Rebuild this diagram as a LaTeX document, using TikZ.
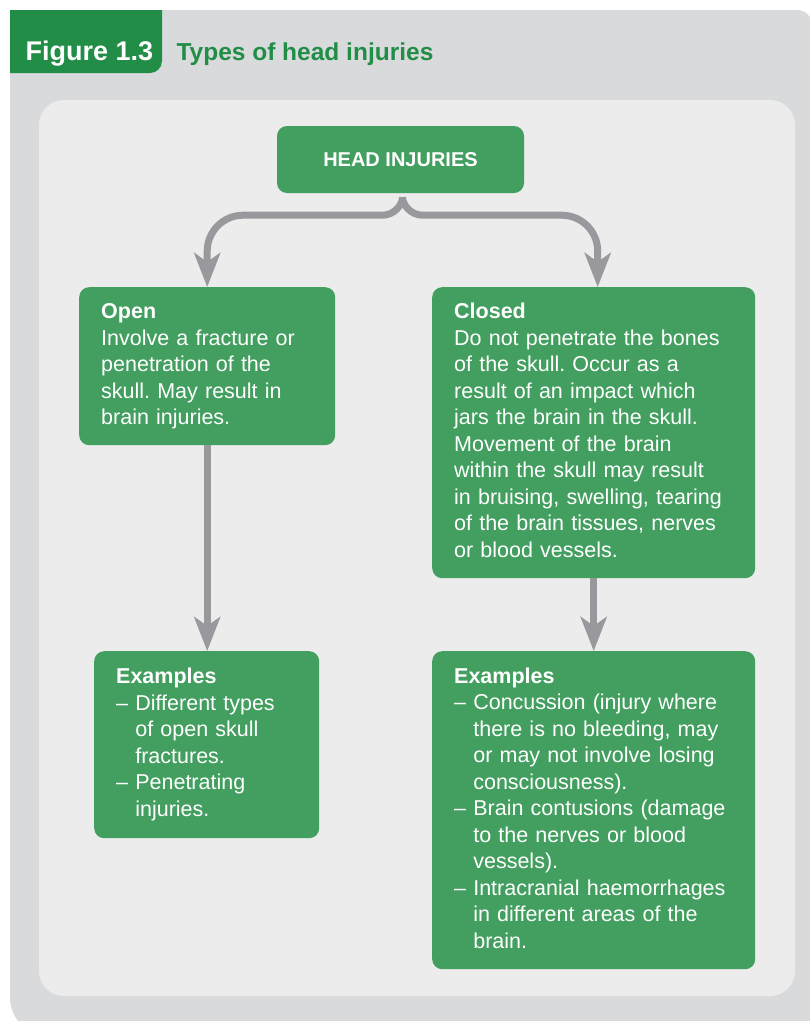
\documentclass[tikz,border=0pt]{standalone}
\usepackage{fontspec}
\setmainfont{Liberation Sans}
\usetikzlibrary{arrows.meta}
\frenchspacing

\definecolor{tabgreen}{HTML}{218D47}
\definecolor{boxgreen}{HTML}{429F5F}
\definecolor{outergray}{HTML}{D9DADC}
\definecolor{innergray}{HTML}{EBECEB}
\definecolor{arrowgray}{HTML}{99989D}

\newcommand{\itemdash}{\textendash\ }
\newcommand{\itemgap}{\phantom{\textendash\ }}

\tikzstyle{box}=[rounded corners=10bp, fill=boxgreen, text=white, align=left, anchor=north west, inner xsep=22bp, inner ysep=0pt, font=\fontsize{21.5bp}{26.5bp}\selectfont]
\tikzstyle{headbox}=[rounded corners=10bp, fill=boxgreen, text=white, minimum width=247bp, minimum height=67bp, font=\fontsize{20bp}{24bp}\selectfont\bfseries]
\tikzstyle{arr}=[draw=arrowgray, line width=7bp, -{Stealth[length=34bp,width=26bp,inset=9bp]}]

\begin{document}
\begin{tikzpicture}[x=1bp,y=1bp]
        \useasboundingbox (0,0) rectangle (810,-1021);
        \clip (0,0) rectangle (810,-1021);
        % panels
        \fill[outergray] (10,-10) -- (797,-10) arc[start angle=90,end angle=0,radius=15] -- (812,-1037) -- (50,-1037) arc[start angle=270,end angle=180,radius=40] -- cycle;
        \fill[innergray, rounded corners=25bp] (39,-100) rectangle (795,-996);
        \fill[tabgreen] (10,-10) -- (162,-10) -- (162,-61) arc[start angle=0,end angle=-90,radius=12] -- (10,-73) -- cycle;
        \draw (22,-60) node[anchor=base west, text=white, font=\fontsize{27bp}{30bp}\selectfont\bfseries](fig){Figure 1.3};
        \draw (173,-60) node[anchor=base west, text=tabgreen, font=\fontsize{24.5bp}{28bp}\selectfont\bfseries](title){Types of head injuries};
        %
        \draw (400.5,-159.5) node[headbox](head){HEAD INJURIES};
        \draw (79,-287) node[box, text width=212bp, minimum height=158bp](open){\strut\textbf{Open}\\Involve a fracture or\\penetration of the\\skull. May result in\\brain injuries.\strut};
        \draw (432,-287) node[box, text width=279bp, minimum height=291bp](closed){\strut\textbf{Closed}\\Do not penetrate the bones\\of the skull. Occur as a\\result of an impact which\\jars the brain in the skull.\\Movement of the brain\\within the skull may result\\in bruising, swelling, tearing\\of the brain tissues, nerves\\or blood vessels.\strut};
        \draw (94,-651) node[box, text width=181bp, minimum height=187bp](exopen){\strut\textbf{Examples}\\\itemdash Different types\\\itemgap of open skull\\\itemgap fractures.\\\itemdash Penetrating\\\itemgap injuries.\strut};
        \draw (432,-651) node[box, text width=279bp, minimum height=318bp](exclosed){\strut\textbf{Examples}\\\itemdash Concussion (injury where\\\itemgap there is no bleeding, may\\\itemgap or may not involve losing\\\itemgap consciousness).\\\itemdash Brain contusions (damage\\\itemgap to the nerves or blood\\\itemgap vessels).\\\itemdash Intracranial haemorrhages\\\itemgap in different areas of the\\\itemgap brain.\strut};
        %
        \draw[arr, shorten <=4bp] ([xshift=2bp]head.south) to[out=-90,in=0] ++(-20,-22) [rounded corners=36bp] -| (open.north);
        \draw[arr, shorten <=4bp] ([xshift=2bp]head.south) to[out=-90,in=180] ++(20,-22) [rounded corners=36bp] -| ([xshift=4bp]closed.north);
        \path
            (open.south)    edge[arr]    (open.south |- exopen.north)
            (closed.south)  edge[arr]    (closed.south |- exclosed.north)
        ;
        %;
\end{tikzpicture}
\end{document}
